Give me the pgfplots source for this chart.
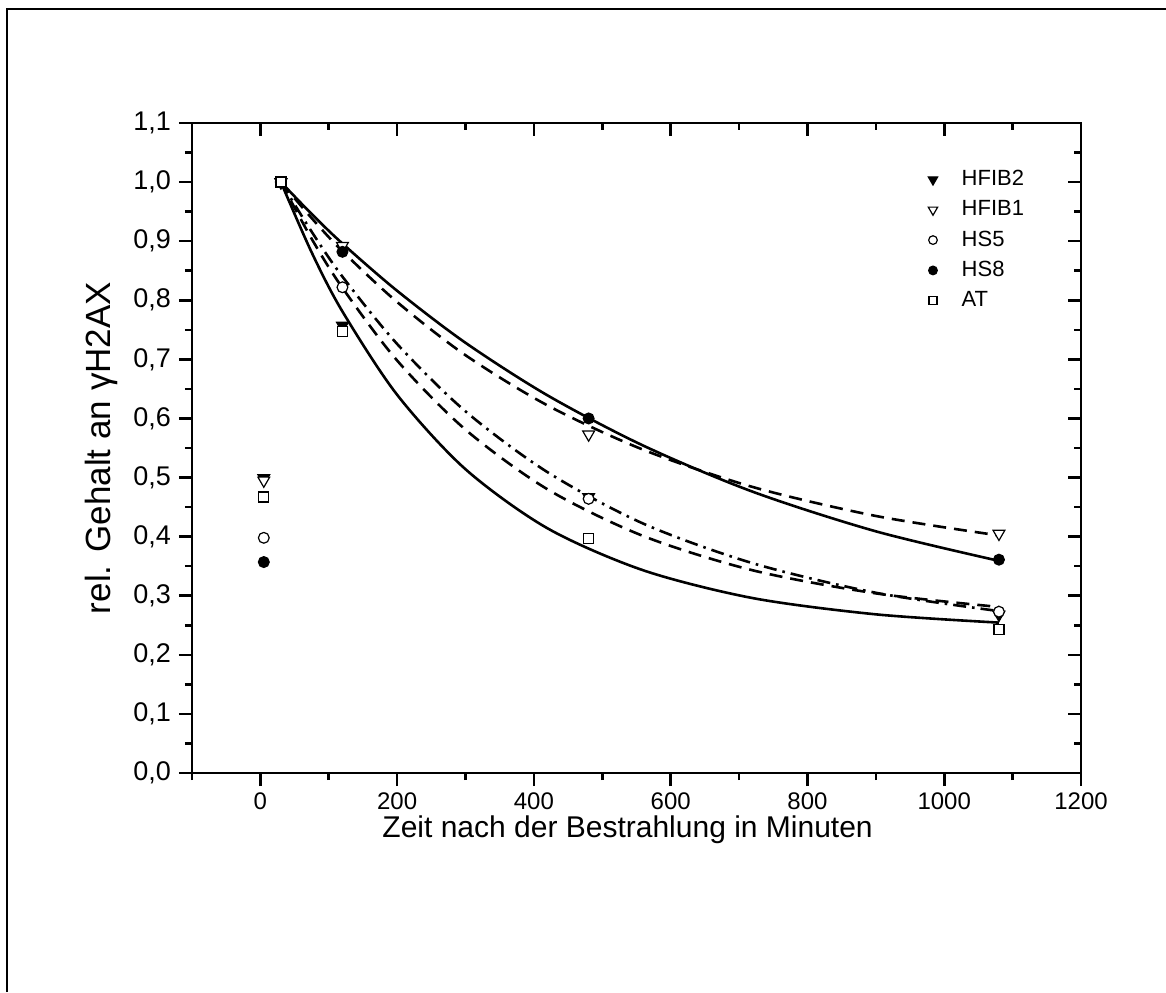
\documentclass[border=0pt]{standalone}
\usepackage{fontspec}
\setmainfont{Liberation Sans}
\usepackage{pgfplots}
\pgfplotsset{compat=1.18}
\newcommand{\lf}{\fontsize{11}{13}\selectfont}
\begin{document}
\begin{tikzpicture}
\useasboundingbox (-96pt,-109.5pt) rectangle (487pt,386.5pt);
\draw[line width=1.3pt] (-92.5pt,-109.5pt) -- (-92.5pt,382pt) -- (487pt,382pt);
\begin{axis}[
  at={(0,0)}, anchor=south west, scale only axis,
  width=444.5pt, height=325pt,
  xmin=-100, xmax=1200, ymin=0, ymax=1.1,
  axis line style={line width=1.3pt},
  tick style={line width=1.3pt, black},
  tick align=outside,
  xtick pos=left, ytick pos=left,
  major tick length=6.5pt, minor tick length=3.5pt,
  xtick={0,200,400,600,800,1000,1200},
  minor xtick={-100,100,300,500,700,900,1100},
  ytick={0,0.1,0.2,0.3,0.4,0.5,0.6,0.7,0.8,0.9,1.0,1.1},
  minor ytick={0.05,0.15,0.25,0.35,0.45,0.55,0.65,0.75,0.85,0.95,1.05},
  /pgf/number format/assume math mode=true,
  /pgf/number format/1000 sep={},
  xticklabel style={font=\fontsize{12}{14}\selectfont},
  yticklabel style={font=\fontsize{13.5}{15}\selectfont, /tikz/xshift=-0.5pt, /pgf/number format/.cd, use comma, fixed, fixed zerofill, precision=1, /tikz/.cd},
  xlabel={Zeit nach der Bestrahlung in Minuten},
  ylabel={rel. Gehalt an γH2AX},
  x label style={font=\fontsize{15}{18}\selectfont, at={(axis description cs:0.49,-0.087)}, anchor=center},
  y label style={font=\fontsize{17.5}{20}\selectfont, at={(axis description cs:-0.1024,0.5)}, anchor=center},
  legend style={draw=none, fill=none, at={(rel axis cs:0.821,0.94)}, anchor=north west,
    font=\lf, nodes={font=\lf}, row sep=2pt,
    /tikz/every odd column/.append style={column sep=10pt},
    cells={anchor=west}},
  legend image code/.code={\draw[#1, every mark/.append style={scale=0.8}] plot coordinates {(0.2cm,0cm)};},
]
% fitted curves
\addplot[black, line width=1.3pt, smooth, forget plot] coordinates {
(30,1.000) (75,0.946) (120,0.896) (200,0.816) (300,0.728) (420,0.639) (560,0.554) (720,0.476) (900,0.409) (1080,0.359)};
\addplot[black, line width=1.3pt, smooth, dash pattern=on 6.5pt off 4pt, forget plot] coordinates {
(30,1.000) (75,0.939) (120,0.883) (200,0.797) (300,0.707) (420,0.622) (560,0.547) (720,0.484) (900,0.435) (1080,0.402)};
\addplot[black, line width=1.3pt, smooth, dash pattern=on 6.5pt off 3pt on 1.3pt off 3pt, forget plot] coordinates {
(30,1.000) (75,0.916) (120,0.840) (200,0.726) (300,0.612) (420,0.509) (560,0.422) (720,0.355) (900,0.305) (1080,0.274)};
\addplot[black, line width=1.3pt, smooth, dash pattern=on 6.5pt off 4pt, forget plot] coordinates {
(30,1.000) (75,0.904) (120,0.821) (200,0.698) (300,0.581) (420,0.480) (560,0.401) (720,0.343) (900,0.304) (1080,0.281)};
\addplot[black, line width=1.3pt, smooth, forget plot] coordinates {
(30,1.000) (75,0.881) (120,0.781) (200,0.640) (300,0.514) (420,0.414) (560,0.343) (720,0.296) (900,0.2685) (1080,0.2545)};
% data points
\addplot[only marks, black, mark=triangle*, mark size=3.4pt, mark options={rotate=180, fill=black, line width=0.6pt}] coordinates {
(5,0.499) (30,1.0) (120,0.757) (480,0.467) (1080,0.268)};
\addlegendentry{\lf HFIB2}
\addplot[only marks, black, mark=triangle*, mark size=3.4pt, mark options={rotate=180, fill=white, line width=0.6pt}] coordinates {
(5,0.495) (30,1.0) (120,0.892) (480,0.573) (1080,0.405)};
\addlegendentry{\lf HFIB1}
\addplot[only marks, black, mark=*, mark size=2.7pt, mark options={fill=white, line width=0.6pt}] coordinates {
(5,0.398) (30,1.0) (120,0.822) (480,0.464) (1080,0.273)};
\addlegendentry{\lf HS5}
\addplot[only marks, black, mark=*, mark size=2.7pt, mark options={fill=black, line width=0.6pt}] coordinates {
(5,0.357) (30,1.0) (120,0.882) (480,0.600) (1080,0.361)};
\addlegendentry{\lf HS8}
\addplot[only marks, black, mark=square*, mark size=2.5pt, mark options={fill=white, line width=0.6pt}] coordinates {
(5,0.467) (30,1.0) (120,0.747) (480,0.397) (1080,0.2435)};
\addlegendentry{\lf AT}
\end{axis}
\begin{axis}[
  at={(0,0)}, anchor=south west, scale only axis,
  width=444.5pt, height=325pt,
  xmin=-100, xmax=1200, ymin=0, ymax=1.1,
  axis line style={line width=1.3pt},
  tick style={line width=1.3pt, black},
  tick align=inside,
  xtick pos=right, ytick pos=right,
  major tick length=6.5pt, minor tick length=3.5pt,
  xtick={0,200,400,600,800,1000,1200},
  minor xtick={-100,100,300,500,700,900,1100},
  ytick={0,0.1,0.2,0.3,0.4,0.5,0.6,0.7,0.8,0.9,1.0,1.1},
  minor ytick={0.05,0.15,0.25,0.35,0.45,0.55,0.65,0.75,0.85,0.95,1.05},
  xticklabels={}, yticklabels={},
]
\end{axis}
\end{tikzpicture}
\end{document}
